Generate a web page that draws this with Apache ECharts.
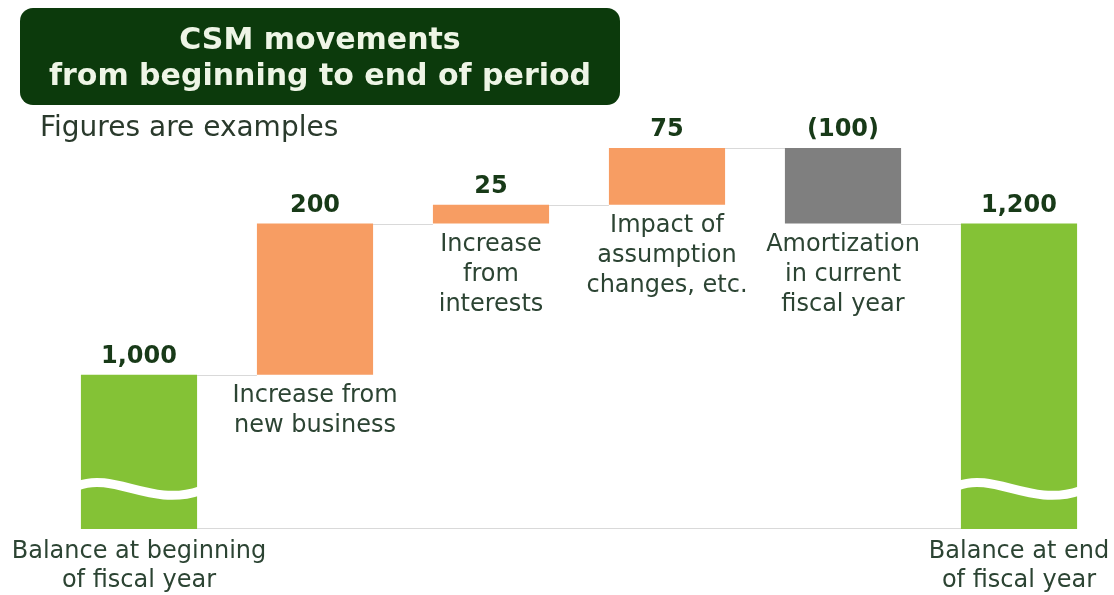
<!DOCTYPE html>
<html>
<head>
<meta charset="utf-8">
<script src="https://cdn.jsdelivr.net/npm/echarts@6/dist/echarts.min.js"></script>
<style>
html,body{margin:0;padding:0;background:#fff;}
#chart{width:1114px;height:595px;}
</style>
</head>
<body>
<div id="chart"></div>
<script>
// ---- data ----
var categories = ['Balance at beginning\nof fiscal year', 'Increase from\nnew business', 'Increase\nfrom\ninterests', 'Impact of\nassumption\nchanges, etc.', 'Amortization\nin current\nfiscal year', 'Balance at end\nof fiscal year'];
var values = [1000, 200, 25, 75, -100, 1200];
var kinds = ['total', 'delta', 'delta', 'delta', 'delta', 'total'];
var valueLabels = ['1,000', '200', '25', '75', '(100)', '1,200'];
var breakLevel = 848; // level of the axis-break wave drawn on the total bars
var axisMin = 796, axisMax = 1300;

// ---- derived ----
var baseData = [], barData = [], levels = [];
var running = 0;
for (var i = 0; i < values.length; i++) {
  var v = values[i];
  if (kinds[i] === 'total') {
    baseData.push({value: 0, label: {show: false}});
    barData.push(v);
    running = v;
  } else {
    baseData.push({value: v >= 0 ? running : running + v, label: {show: true}});
    barData.push(Math.abs(v));
    running += v;
  }
  levels.push(running);
}
var colors = values.map(function (v, i) {
  if (kinds[i] === 'total') return '#84C236';
  return v >= 0 ? '#F79D63' : '#7F7F7F';
});
var connectorData = [];
for (var j = 0; j < levels.length - 1; j++) connectorData.push([j, levels[j]]);
var waveData = [];
for (var k = 0; k < kinds.length; k++) if (kinds[k] === 'total') waveData.push([k, breakLevel]);

var BAR_RATIO = 0.66;
var textColor = '#2C4433';
var valColor = '#183A18';

var chart = echarts.init(document.getElementById('chart'));
chart.setOption({
  animation: false,
  graphic: [
    {type: 'rect', left: 20, top: 8, shape: {width: 600, height: 97, r: 13}, style: {fill: '#0C3A0C'}},
    {type: 'text', x: 320, y: 59, style: {text: 'CSM movements\nfrom beginning to end of period', fill: '#EEF5E6', font: 'bold 30px "DejaVu Sans"', textAlign: 'center', textVerticalAlign: 'middle', lineHeight: 36}},
    {type: 'text', left: 40, top: 115, style: {text: 'Figures are examples', fill: '#2A3A2C', font: '28px "DejaVu Sans"'}}
  ],
  grid: {left: 51, right: 7, top: 148, bottom: 62},
  xAxis: {
    type: 'category',
    data: categories,
    axisLine: {show: false},
    axisTick: {show: false},
    axisLabel: {
      interval: 0,
      margin: 8,
      color: textColor,
      fontFamily: 'DejaVu Sans',
      fontSize: 24,
      lineHeight: 29,
      formatter: function (val, idx) { return kinds[idx] === 'total' ? val : ''; }
    }
  },
  yAxis: {type: 'value', min: axisMin, max: axisMax, show: false, splitLine: {show: false}},
  series: [
    {
      type: 'bar', stack: 'w', barWidth: (BAR_RATIO * 100) + '%', clip: true,
      itemStyle: {color: 'transparent'},
      data: baseData,
      label: {
        position: 'insideTop', distance: 6,
        color: textColor, fontFamily: 'DejaVu Sans', fontSize: 24, lineHeight: 30,
        formatter: function (p) { return categories[p.dataIndex]; }
      },
      silent: true
    },
    {
      type: 'bar', stack: 'w', barWidth: (BAR_RATIO * 100) + '%', clip: true,
      data: barData.map(function (v, i) { return {value: v, itemStyle: {color: colors[i]}}; }),
      label: {
        show: true, position: 'top', distance: 6,
        color: valColor, fontFamily: 'DejaVu Sans', fontWeight: 'bold', fontSize: 24,
        formatter: function (p) { return valueLabels[p.dataIndex]; }
      }
    },
    {
      type: 'custom',
      data: connectorData,
      z: 1,
      renderItem: function (params, api) {
        var idx = api.value(0);
        var p0 = api.coord([idx, api.value(1)]);
        var p1 = api.coord([idx + 1, api.value(1)]);
        var w = api.size([1, 0])[0] * BAR_RATIO;
        var y = Math.round(p0[1]) + 0.5;
        return {type: 'line', shape: {x1: p0[0] + w / 2, y1: y, x2: p1[0] - w / 2, y2: y}, style: {stroke: '#D9D9D9', lineWidth: 1}};
      }
    },
    {
      type: 'custom',
      data: [[0, categories.length - 1]],
      z: 1,
      renderItem: function (params, api) {
        var p0 = api.coord([api.value(0), axisMin]);
        var p1 = api.coord([api.value(1), axisMin]);
        var w = api.size([1, 0])[0] * BAR_RATIO;
        var y = Math.round(p0[1]) - 0.5;
        return {type: 'line', shape: {x1: p0[0] + w / 2, y1: y, x2: p1[0] - w / 2, y2: y}, style: {stroke: '#D9D9D9', lineWidth: 1}};
      }
    },
    {
      type: 'custom',
      data: waveData,
      z: 5,
      renderItem: function (params, api) {
        var p = api.coord([api.value(0), api.value(1)]);
        var w = api.size([1, 0])[0] * BAR_RATIO;
        var x0 = p[0] - w / 2 - 3, x1 = p[0] + w / 2 + 3;
        var ww = x1 - x0;
        return {
          type: 'bezierCurve',
          shape: {x1: x0, y1: p[1] - 4, cpx1: x0 + ww * 0.3, cpy1: p[1] - 18, cpx2: x0 + ww * 0.6, cpy2: p[1] + 18, x2: x1, y2: p[1] + 1},
          style: {stroke: '#FFFFFF', lineWidth: 9, fill: null}
        };
      }
    }
  ]
});
</script>
</body>
</html>
